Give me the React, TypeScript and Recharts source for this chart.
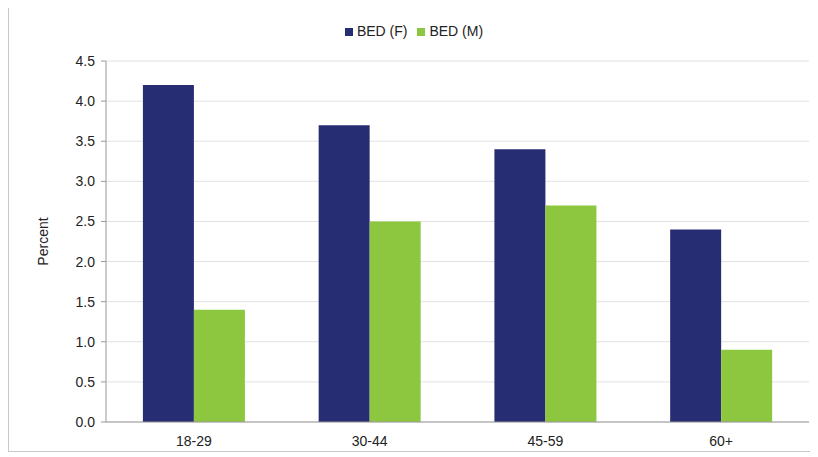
import { BarChart, Bar, XAxis, YAxis, CartesianGrid, Legend } from "recharts";

const ageGroups = ["18-29", "30-44", "45-59", "60+"];
const bedFemale = [4.2, 3.7, 3.4, 2.4];
const bedMale = [1.4, 2.5, 2.7, 0.9];
const yTicks = [0, 0.5, 1, 1.5, 2, 2.5, 3, 3.5, 4, 4.5];

const data = ageGroups.map((g, i) => ({ group: g, f: bedFemale[i], m: bedMale[i] }));

const font = "'Liberation Sans', Arial, sans-serif";

export default function App() {
  return (
    <div style={{ width: 808, height: 445, border: "1px solid #c8c8c8", marginTop: -3, fontFamily: font, background: "#fff" }}>
      <BarChart width={808} height={445} data={data} margin={{ top: 39, right: 8, left: 0, bottom: 0 }} barGap={0} barCategoryGap="21%">
        <CartesianGrid vertical={false} stroke="#e2e2e2" />
        <XAxis dataKey="group" height={29} tickLine={false} stroke="#999" tick={{ fontSize: 14, fill: "#222" }} tickMargin={8} />
        <YAxis
          width={97}
          domain={[0, 4.5]}
          ticks={yTicks}
          interval={0}
          tickFormatter={(v) => Number(v).toFixed(1)}
          stroke="#999"
          tickSize={5}
          tickMargin={6}
          tick={{ fontSize: 14, fill: "#222" }}
          label={{ value: "Percent", angle: -90, position: "insideLeft", offset: 34, style: { fontSize: 14, fill: "#222", textAnchor: "middle" } }}
        />
        <Legend
          verticalAlign="top"
          align="center"
          iconType="square"
          iconSize={8}
          wrapperStyle={{ top: 17, left: 6, width: 808, fontSize: 14 }}
          formatter={(value) => <span style={{ color: "#222" }}>{value}</span>}
        />
        <Bar dataKey="f" name="BED (F)" fill="#262d72" isAnimationActive={false} />
        <Bar dataKey="m" name="BED (M)" fill="#8dc63f" isAnimationActive={false} />
      </BarChart>
    </div>
  );
}
